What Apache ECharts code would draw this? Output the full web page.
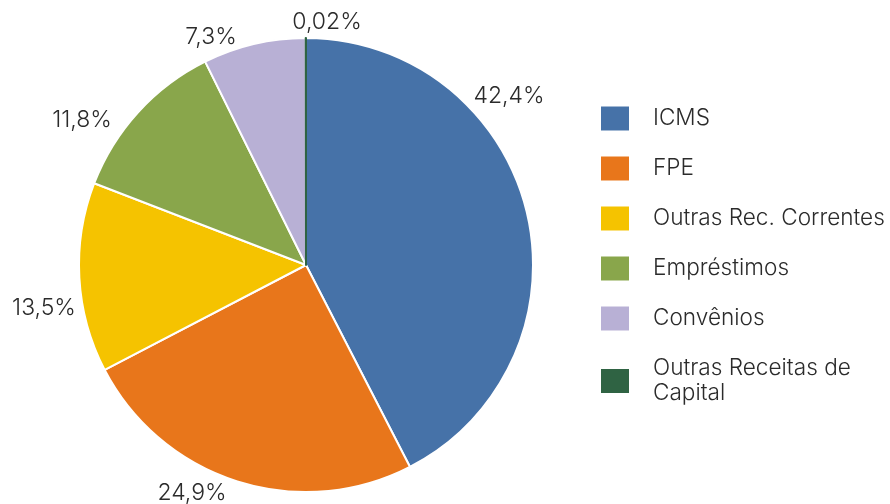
<!DOCTYPE html>
<html><head><meta charset="utf-8">
<script src="https://cdn.jsdelivr.net/npm/echarts@6/dist/echarts.min.js"></script>
<style>html,body{margin:0;padding:0;background:#fff}#c{width:890px;height:504px}</style>
</head><body><div id="c"></div>
<script>
const categories = ['ICMS', 'FPE', 'Outras Rec. Correntes', 'Empréstimos', 'Convênios', 'Outras Receitas de Capital'];
const values = [42.4, 24.9, 13.5, 11.8, 7.3, 0.02];
const labels = ['42,4%', '24,9%', '13,5%', '11,8%', '7,3%', '0,02%'];
const colors = ['#4672a8', '#e8761b', '#f5c300', '#89a64b', '#b8b0d5', '#2f6343'];
// label anchor centres as placed in the reference
const labelPos = [[509, 96], [192, 493], [44, 308], [82, 120], [211, 37], [327, 22]];

const FONT = 'Inter';
const chart = echarts.init(document.getElementById('c'));
chart.setOption({
  animation: false,
  color: colors,
  legend: {
    orient: 'vertical', left: 601, top: 106, padding: 0,
    itemWidth: 28, itemHeight: 24, itemGap: 25,
    icon: 'rect',
    itemStyle: { borderWidth: 0 },
    textStyle: { fontFamily: FONT, fontWeight: 300, fontSize: 22.6, color: '#2b2b2b', padding: [0,0,0,19], lineHeight: 25 },
    formatter: n => n === 'Outras Receitas de Capital' ? 'Outras Receitas de\nCapital' : n,
    data: categories
  },
  series: [{
    type: 'pie',
    center: [306, 265], radius: 227,
    startAngle: 90, clockwise: true,
    itemStyle: { borderColor: '#fff', borderWidth: 2 },
    label: {
      show: true, position: 'outside', overflow: 'none',
      fontFamily: FONT, fontWeight: 300, fontSize: 23, color: '#2b2b2b',
      formatter: p => labels[p.dataIndex]
    },
    labelLine: { show: false },
    labelLayout: p => ({
      x: labelPos[p.dataIndex][0], y: labelPos[p.dataIndex][1],
      align: 'center', verticalAlign: 'middle'
    }),
    data: categories.map((c, i) => ({
      name: c, value: values[i],
      itemStyle: i === categories.length - 1 ? { borderColor: colors[i], borderWidth: 2 } : undefined
    }))
  }]
});
</script></body></html>
